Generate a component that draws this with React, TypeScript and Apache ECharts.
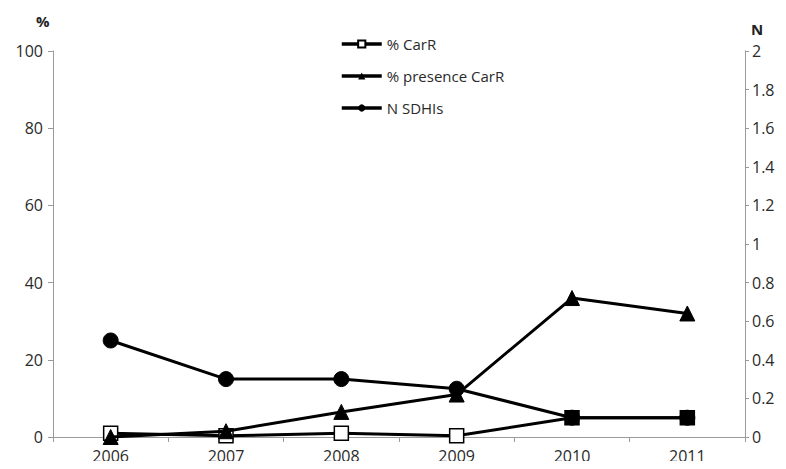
import React, { useEffect, useRef } from "react";
import * as echarts from "echarts";

const years = ["2006", "2007", "2008", "2009", "2010", "2011"];
const pctCarR = [1, 0.3, 1, 0.3, 5, 5];
const pctPresence = [0, 1.5, 6.5, 11, 36, 32];
const nSDHIs = [0.5, 0.3, 0.3, 0.25, 0.1, 0.1];
const leftTicks = { min: 0, max: 100, interval: 20 };
const rightTicks = { min: 0, max: 2, interval: 0.2 };

const FONT = "Open Sans";

export default function App() {
  const ref = useRef<HTMLDivElement>(null);
  useEffect(() => {
    if (!ref.current) return;
    const chart = echarts.init(ref.current, undefined, { renderer: "svg" });
    const axisLine = { show: true, lineStyle: { color: "#9a9a9a", width: 1 } };
    const label = { color: "#2a2a2a", fontFamily: FONT, fontSize: 16 };
    chart.setOption({
      animation: false,
      backgroundColor: "#fff",
      grid: { left: 53, right: 41, top: 51, bottom: 32 },
      legend: {
        orient: "vertical",
        left: 335,
        top: 31,
        itemWidth: 40,
        itemHeight: 9,
        itemGap: 16,
        lineStyle: { width: 3.5 },
        textStyle: { color: "#2a2a2a", fontFamily: FONT, fontSize: 15, lineHeight: 16 },
        data: ["% CarR", "% presence CarR", "N SDHIs"],
      },
      graphic: [
        { type: "text", left: 36, top: 13, style: { text: "%", font: `bold 15px ${FONT}`, fill: "#222" } },
        { type: "text", left: 751, top: 21, style: { text: "N", font: `bold 15px ${FONT}`, fill: "#222" } },
      ],
      xAxis: {
        type: "category",
        data: years,
        boundaryGap: true,
        axisLine,
        axisTick: { show: true, length: 5, lineStyle: { color: "#9a9a9a" } },
        axisLabel: { ...label, margin: 11 },
        splitLine: { show: false },
      },
      yAxis: [
        {
          type: "value",
          position: "left",
          ...leftTicks,
          axisLine,
          axisTick: { show: true, length: 5, lineStyle: { color: "#9a9a9a" } },
          axisLabel: { ...label, margin: 10 },
          splitLine: { show: false },
        },
        {
          type: "value",
          position: "right",
          ...rightTicks,
          axisLine,
          axisTick: { show: true, length: 4, lineStyle: { color: "#9a9a9a" } },
          axisLabel: { ...label, margin: 7, formatter: (v: number) => String(Math.round(v * 10) / 10) },
          splitLine: { show: false },
        },
      ],
      series: [
        {
          name: "N SDHIs",
          type: "line",
          yAxisIndex: 1,
          data: nSDHIs,
          symbol: "circle",
          symbolSize: 15,
          z: 3,
          lineStyle: { color: "#000", width: 3 },
          itemStyle: { color: "#000", borderColor: "#000" },
        },
        {
          name: "% presence CarR",
          type: "line",
          data: pctPresence,
          symbol: "triangle",
          symbolSize: 15,
          z: 4,
          lineStyle: { color: "#000", width: 3 },
          itemStyle: { color: "#000", borderColor: "#000" },
        },
        {
          name: "% CarR",
          type: "line",
          data: pctCarR.map((v, i) =>
            i >= 4 ? { value: v, itemStyle: { color: "#000" } } : v
          ),
          symbol: "rect",
          symbolSize: 14,
          z: 2,
          lineStyle: { color: "#000", width: 3 },
          itemStyle: { color: "#fff", borderColor: "#000", borderWidth: 1.5 },
        },
      ],
    });
    return () => chart.dispose();
  }, []);
  return <div ref={ref} style={{ width: 786, height: 469, margin: -8 }} />;
}
